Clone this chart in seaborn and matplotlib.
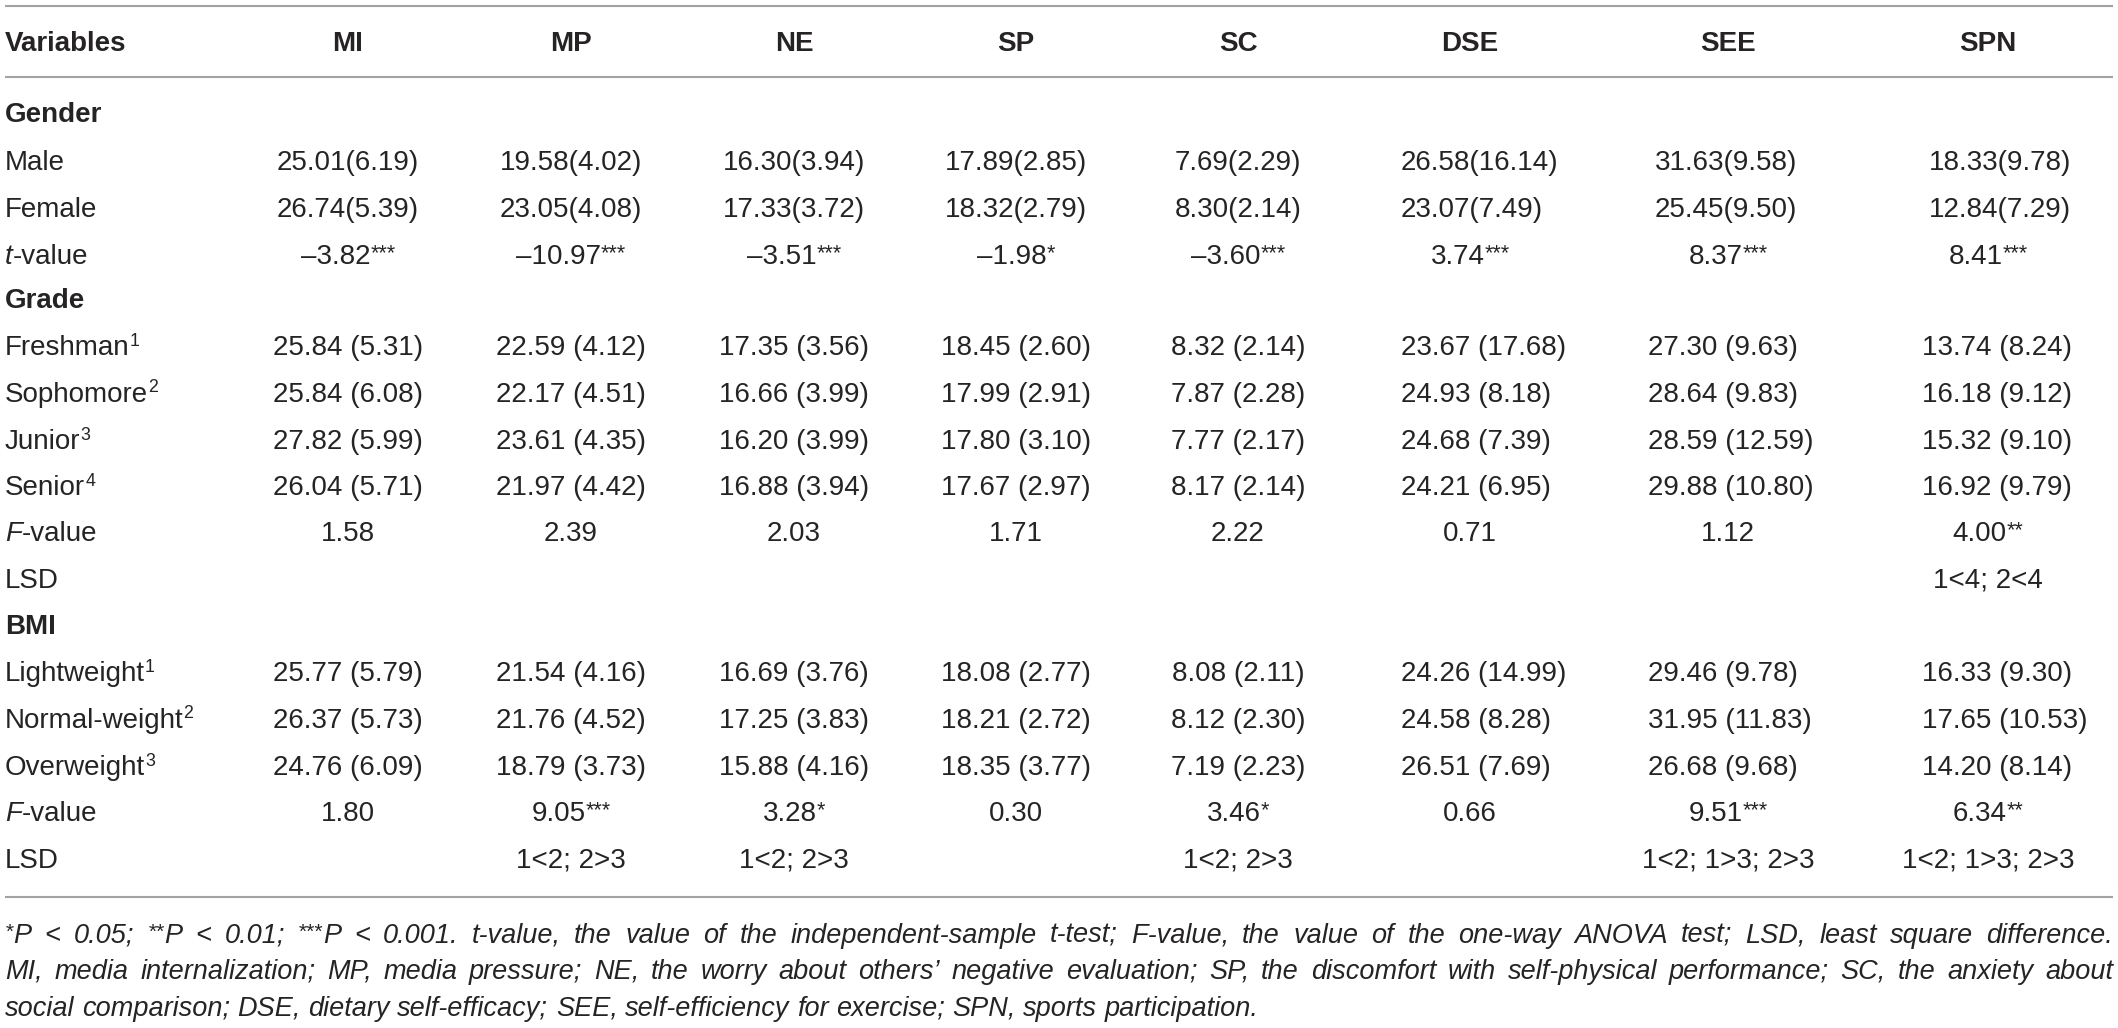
import matplotlib
matplotlib.use("Agg")
import matplotlib.pyplot as plt
import seaborn as sns
import numpy as np
import pandas as pd

# ---------------- data ----------------
columns = ["MI", "MP", "NE", "SP", "SC", "DSE", "SEE", "SPN"]

male_mean = [25.01, 19.58, 16.30, 17.89, 7.69, 26.58, 31.63, 18.33]
male_sd = [6.19, 4.02, 3.94, 2.85, 2.29, 16.14, 9.58, 9.78]
female_mean = [26.74, 23.05, 17.33, 18.32, 8.30, 23.07, 25.45, 12.84]
female_sd = [5.39, 4.08, 3.72, 2.79, 2.14, 7.49, 9.50, 7.29]
gender_t = [-3.82, -10.97, -3.51, -1.98, -3.60, 3.74, 8.37, 8.41]
gender_t_sig = ["***", "***", "***", "*", "***", "***", "***", "***"]

freshman_mean = [25.84, 22.59, 17.35, 18.45, 8.32, 23.67, 27.30, 13.74]
freshman_sd = [5.31, 4.12, 3.56, 2.60, 2.14, 17.68, 9.63, 8.24]
sophomore_mean = [25.84, 22.17, 16.66, 17.99, 7.87, 24.93, 28.64, 16.18]
sophomore_sd = [6.08, 4.51, 3.99, 2.91, 2.28, 8.18, 9.83, 9.12]
junior_mean = [27.82, 23.61, 16.20, 17.80, 7.77, 24.68, 28.59, 15.32]
junior_sd = [5.99, 4.35, 3.99, 3.10, 2.17, 7.39, 12.59, 9.10]
senior_mean = [26.04, 21.97, 16.88, 17.67, 8.17, 24.21, 29.88, 16.92]
senior_sd = [5.71, 4.42, 3.94, 2.97, 2.14, 6.95, 10.80, 9.79]
grade_f = [1.58, 2.39, 2.03, 1.71, 2.22, 0.71, 1.12, 4.00]
grade_f_sig = ["", "", "", "", "", "", "", "**"]
grade_lsd = ["", "", "", "", "", "", "", "1<4; 2<4"]

light_mean = [25.77, 21.54, 16.69, 18.08, 8.08, 24.26, 29.46, 16.33]
light_sd = [5.79, 4.16, 3.76, 2.77, 2.11, 14.99, 9.78, 9.30]
normal_mean = [26.37, 21.76, 17.25, 18.21, 8.12, 24.58, 31.95, 17.65]
normal_sd = [5.73, 4.52, 3.83, 2.72, 2.30, 8.28, 11.83, 10.53]
over_mean = [24.76, 18.79, 15.88, 18.35, 7.19, 26.51, 26.68, 14.20]
over_sd = [6.09, 3.73, 4.16, 3.77, 2.23, 7.69, 9.68, 8.14]
bmi_f = [1.80, 9.05, 3.28, 0.30, 3.46, 0.66, 9.51, 6.34]
bmi_f_sig = ["", "***", "*", "", "*", "", "***", "**"]
bmi_lsd = ["", "1<2; 2>3", "1<2; 2>3", "", "1<2; 2>3", "", "1<2; 1>3; 2>3", "1<2; 1>3; 2>3"]

footnote_lines = [
    "*P < 0.05; **P < 0.01; ***P < 0.001. t-value, the value of the independent-sample t-test; F-value, the value of the one-way ANOVA test; LSD, least square difference.",
    "MI, media internalization; MP, media pressure; NE, the worry about others\u2019 negative evaluation; SP, the discomfort with self-physical performance; SC, the anxiety about",
    "social comparison; DSE, dietary self-efficacy; SEE, self-efficiency for exercise; SPN, sports participation.",
]

# ---------------- style / layout ----------------
sns.set_theme(style="white")
plt.rcParams["font.family"] = ["Liberation Sans", "DejaVu Sans"]

W, H = 2118, 1028
TXT = "#262324"
RULE = "#a2a2a2"
FS = 20.0          # body font size (pt)
FN = 19.5          # footnote font size

col_x = [348, 571, 794, 1016, 1238, 1470, 1728, 1988]
left_gender = {5: 1401, 6: 1655, 7: 1929}
left_other = {5: 1401, 6: 1648, 7: 1922}

fig = plt.figure(figsize=(W / 100, H / 100), dpi=100)
ax = fig.add_axes([0, 0, 1, 1])
ax.set_xlim(0, W)
ax.set_ylim(H, 0)
ax.axis("off")
renderer = fig.canvas.get_renderer()


def measure(s, **kw):
    t = ax.text(0, 0, s, **kw)
    w = t.get_window_extent(renderer).width
    t.remove()
    return w


def run_props(size, style="normal", weight="normal", scale=1.0):
    return dict(fontsize=size * scale, fontstyle=style,
                fontweight=weight, color=TXT)


def draw_runs(x, ybase, runs, ha="left", size=FS):
    """runs: list of (text, dict(style, weight, sup))"""
    items = []
    for s, opt in runs:
        sup = opt.get("sup", None)
        if sup == "star":
            scale, rise = 0.78, 0.17
        elif sup == "digit":
            scale, rise = 0.64, 0.34
        else:
            scale, rise = 1.0, 0.0
        p = run_props(size, opt.get("style", "normal"), opt.get("weight", "normal"), scale)
        items.append((s, p, rise, measure(s, **p)))
    total = sum(i[3] for i in items)
    if ha == "center":
        cx = x - total / 2
    elif ha == "right":
        cx = x - total
    else:
        cx = x
    em = size * 100 / 72
    for s, p, rise, w in items:
        ax.text(cx, ybase - rise * em, s, ha="left", va="baseline", **p)
        cx += w
    return total


def base(yc, size=FS):
    return yc + 0.358 * size * 100 / 72


def N(s):
    return (s, {})


def fmt_num(v):
    s = f"{abs(v):.2f}"
    return ("\u2013" + s) if v < 0 else s


# ---------------- rules ----------------
for yy in (6, 77, 897):
    ax.plot([5, 2113], [yy, yy], color=RULE, lw=1.5, solid_capstyle="butt")

# ---------------- header ----------------
yh = base(41)
draw_runs(5, yh, [("Variables", {"weight": "bold"})])
for j, c in enumerate(columns):
    draw_runs(col_x[j], yh, [(c, {"weight": "bold"})], ha="center")


# ---------------- body ----------------
def group(label, y):
    draw_runs(5, base(y), [(label, {"weight": "bold"})])


def mean_row(label_runs, means, sds, y, space, lefts):
    draw_runs(5, base(y), label_runs)
    sep = " (" if space else "("
    for j in range(len(columns)):
        s = f"{means[j]:.2f}{sep}{sds[j]:.2f})"
        if j in lefts:
            draw_runs(lefts[j], base(y), [N(s)])
        else:
            draw_runs(col_x[j], base(y), [N(s)], ha="center")


def stat_row(label_runs, vals, sigs, y):
    draw_runs(5, base(y), label_runs)
    for j in range(len(columns)):
        runs = [N(fmt_num(vals[j]))]
        if sigs[j]:
            runs.append((sigs[j], {"sup": "star"}))
        draw_runs(col_x[j], base(y), runs, ha="center")


def lsd_row(vals, y):
    draw_runs(5, base(y), [N("LSD")])
    for j in range(len(columns)):
        if vals[j]:
            draw_runs(col_x[j], base(y), [N(vals[j])], ha="center")


def sup_label(txt, n):
    return [N(txt), (str(n), {"sup": "digit"})]


t_label = [("t", {"style": "italic"}), N("-value")]
f_label = [("F", {"style": "italic"}), N("-value")]

group("Gender", 112)
mean_row([N("Male")], male_mean, male_sd, 160, False, left_gender)
mean_row([N("Female")], female_mean, female_sd, 207, False, left_gender)
stat_row(t_label, gender_t, gender_t_sig, 254)

group("Grade", 298)
mean_row(sup_label("Freshman", 1), freshman_mean, freshman_sd, 345, True, left_other)
mean_row(sup_label("Sophomore", 2), sophomore_mean, sophomore_sd, 392, True, left_other)
mean_row(sup_label("Junior", 3), junior_mean, junior_sd, 439, True, left_other)
mean_row(sup_label("Senior", 4), senior_mean, senior_sd, 485, True, left_other)
stat_row(f_label, grade_f, grade_f_sig, 531)
lsd_row(grade_lsd, 578)

group("BMI", 624)
mean_row(sup_label("Lightweight", 1), light_mean, light_sd, 671, True, left_other)
mean_row(sup_label("Normal-weight", 2), normal_mean, normal_sd, 718, True, left_other)
mean_row(sup_label("Overweight", 3), over_mean, over_sd, 765, True, left_other)
stat_row(f_label, bmi_f, bmi_f_sig, 811)
lsd_row(bmi_lsd, 858)


# ---------------- footnote ----------------
def word_runs(word):
    k = 0
    while k < len(word) and word[k] == "*":
        k += 1
    runs = []
    if k:
        runs.append((word[:k], {"style": "italic", "sup": "star"}))
    if word[k:]:
        runs.append((word[k:], {"style": "italic"}))
    return runs


def word_width(runs, size):
    tot = 0
    for s, opt in runs:
        sc = 0.78 if opt.get("sup") == "star" else 1.0
        tot += measure(s, **run_props(size, "italic", "normal", sc))
    return tot


foot_y = [933, 969, 1006]
x0, x1 = 5, 2113
for li, line in enumerate(footnote_lines):
    words = line.split(" ")
    wr = [word_runs(w) for w in words]
    ww = [word_width(r, FN) for r in wr]
    yb = base(foot_y[li], FN)
    if li < len(footnote_lines) - 1:
        gap = (x1 - x0 - sum(ww)) / (len(words) - 1)
    else:
        gap = measure("a b", **run_props(FN, "italic")) - measure("ab", **run_props(FN, "italic"))
    cx = x0
    for r, w in zip(wr, ww):
        draw_runs(cx, yb, r, size=FN)
        cx += w + gap

fig.savefig("out.png", dpi=100)
